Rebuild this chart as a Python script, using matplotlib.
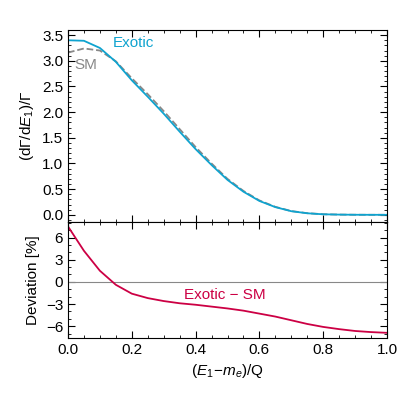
import numpy as np
import matplotlib
matplotlib.use("Agg")
import matplotlib.pyplot as plt
from matplotlib.ticker import AutoMinorLocator

plt.rcParams['font.family'] = ['Liberation Sans', 'DejaVu Sans']
plt.rcParams['mathtext.fontset'] = 'custom'
plt.rcParams['mathtext.rm'] = 'Liberation Sans'
plt.rcParams['mathtext.it'] = 'Liberation Sans:italic'

x = [0,.05,.1,.15,.2,.25,.3,.35,.4,.45,.5,.55,.6,.65,.7,.75,.8,.85,.9,.95,1.0]
exotic = [3.40,3.39,3.25,2.98,2.62,2.30,1.97,1.62,1.28,0.97,0.68,0.45,0.27,0.15,0.07,0.03,0.01,0.004,0.001,0.0,0.0]
sm = [3.16,3.24,3.20,2.99,2.66,2.35,2.02,1.67,1.32,1.00,0.70,0.465,0.28,0.155,0.073,0.032,0.011,0.004,0.001,0.0,0.0]
dev = [7.5,4.2,1.5,-0.4,-1.6,-2.2,-2.6,-2.9,-3.1,-3.35,-3.6,-3.9,-4.3,-4.7,-5.2,-5.7,-6.1,-6.4,-6.65,-6.8,-6.9]

fig = plt.figure(figsize=(4.07,4.07), dpi=100)
ax1 = fig.add_axes([68/407, 1-222/407, 319/407, 192/407])
ax2 = fig.add_axes([68/407, 1-338/407, 319/407, 116/407], sharex=ax1)
blue = '#0fa3cf'
ax1.plot(x, sm, ls='--', color='#888888', lw=1.3)
ax1.plot(x, exotic, color=blue, lw=1.3)
ax1.set_ylim(-0.14, 3.6)
ax1.set_xlim(0, 1)
ax1.set_yticks([0,0.5,1,1.5,2,2.5,3,3.5])
ax1.set_ylabel(r'$(\mathrm{d}\Gamma/\mathrm{d}E_1)/\Gamma$', fontsize=11)
ax1.text(0.14, 3.27, 'Exotic', color=blue, fontsize=11)
ax1.text(0.02, 2.85, 'SM', color='#888888', fontsize=11)
plt.setp(ax1.get_xticklabels(), visible=False)

ax2.axhline(0, color='#888888', lw=0.8)
ax2.plot(x, dev, color='#cc0044', lw=1.3)
ax2.set_ylim(-7.6, 8.1)
ax2.set_yticks([-6,-3,0,3,6])
ax2.set_xticks([0,0.2,0.4,0.6,0.8,1.0])
ax2.set_ylabel('Deviation [%]', fontsize=11)
ax2.set_xlabel(r'$(E_1\!-\!m_e)/\mathrm{Q}$', fontsize=11)
ax2.text(0.365, -2.3, 'Exotic − SM', color='#cc0044', fontsize=11)
for a in (ax1, ax2):
    a.tick_params(which='both', direction='in', top=True, right=True, labelsize=11)
    a.tick_params(which='major', length=5)
    a.tick_params(which='minor', length=2.5)
    a.xaxis.set_minor_locator(AutoMinorLocator(4))
    a.yaxis.set_minor_locator(AutoMinorLocator(5 if a is ax1 else 3))
fig.align_ylabels([ax1, ax2])
fig.savefig('out.png', dpi=100)
